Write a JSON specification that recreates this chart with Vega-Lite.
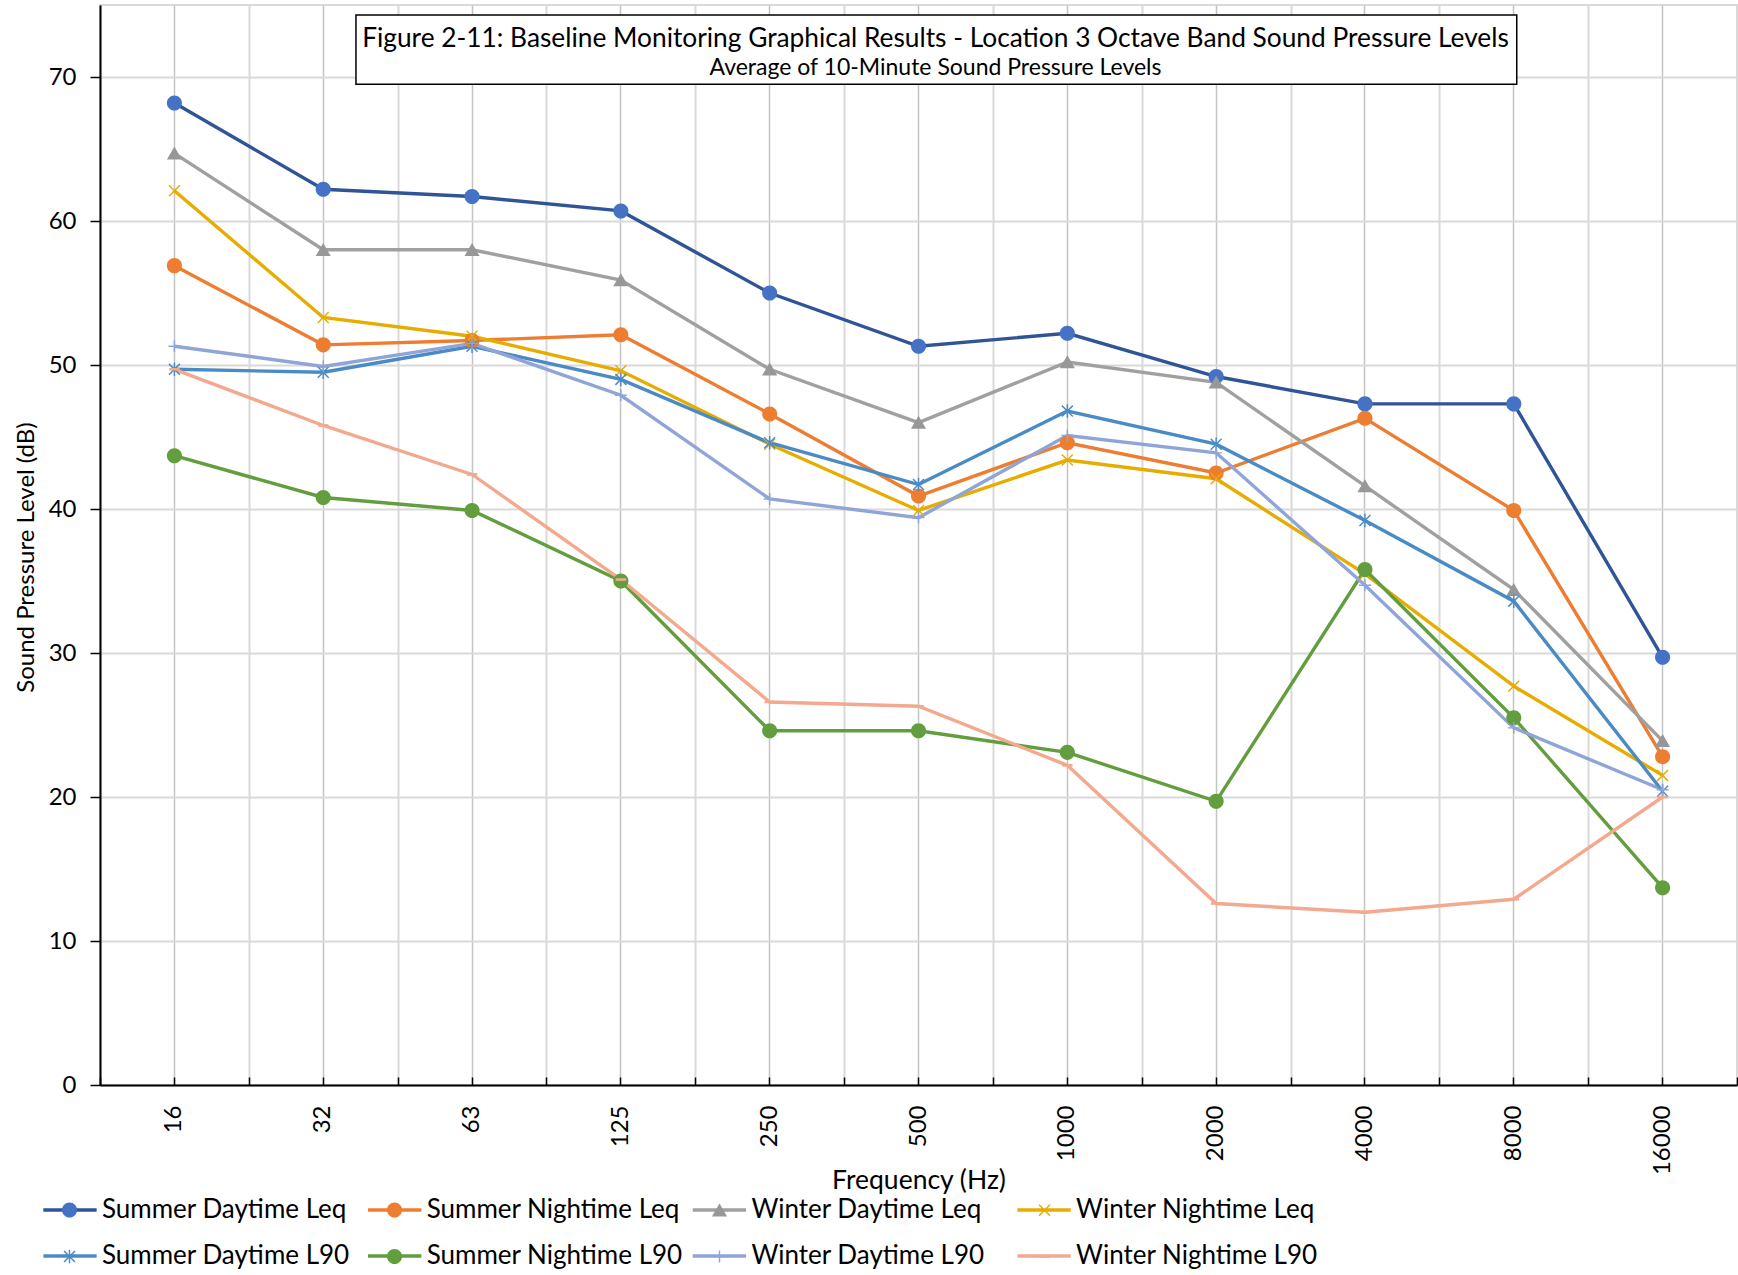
{
  "$schema": "https://vega.github.io/schema/vega-lite/v6.json",
  "width": 1637,
  "height": 1080,
  "autosize": {"type": "none"},
  "padding": {"left": 100, "top": 5, "right": 1, "bottom": 190},
  "background": "white",
  "config": {
    "font": "Lato",
    "view": {"stroke": "#d9d9d9", "strokeWidth": 2}
  },
  "title": {
    "text": "Figure 2-11:  Baseline Monitoring Graphical Results - Location 3 Octave Band Sound Pressure Levels",
    "subtitle": "Average of 10-Minute Sound Pressure Levels",
    "anchor": "middle",
    "frame": "group",
    "orient": "top",
    "offset": -75,
    "dx": 17,
    "font": "Lato",
    "fontSize": 26.3,
    "fontWeight": "normal",
    "color": "black",
    "subtitleFont": "Lato",
    "subtitleFontSize": 23,
    "subtitleColor": "black",
    "subtitlePadding": 5,
    "zindex": 2
  },
  "data": {
    "values": [
      {"frequency": 16, "series": "Summer Daytime Leq", "level": 68.2},
      {"frequency": 32, "series": "Summer Daytime Leq", "level": 62.2},
      {"frequency": 63, "series": "Summer Daytime Leq", "level": 61.7},
      {"frequency": 125, "series": "Summer Daytime Leq", "level": 60.7},
      {"frequency": 250, "series": "Summer Daytime Leq", "level": 55.0},
      {"frequency": 500, "series": "Summer Daytime Leq", "level": 51.3},
      {"frequency": 1000, "series": "Summer Daytime Leq", "level": 52.2},
      {"frequency": 2000, "series": "Summer Daytime Leq", "level": 49.2},
      {"frequency": 4000, "series": "Summer Daytime Leq", "level": 47.3},
      {"frequency": 8000, "series": "Summer Daytime Leq", "level": 47.3},
      {"frequency": 16000, "series": "Summer Daytime Leq", "level": 29.7},
      {"frequency": 16, "series": "Summer Nightime Leq", "level": 56.9},
      {"frequency": 32, "series": "Summer Nightime Leq", "level": 51.4},
      {"frequency": 63, "series": "Summer Nightime Leq", "level": 51.7},
      {"frequency": 125, "series": "Summer Nightime Leq", "level": 52.1},
      {"frequency": 250, "series": "Summer Nightime Leq", "level": 46.6},
      {"frequency": 500, "series": "Summer Nightime Leq", "level": 40.9},
      {"frequency": 1000, "series": "Summer Nightime Leq", "level": 44.6},
      {"frequency": 2000, "series": "Summer Nightime Leq", "level": 42.5},
      {"frequency": 4000, "series": "Summer Nightime Leq", "level": 46.3},
      {"frequency": 8000, "series": "Summer Nightime Leq", "level": 39.9},
      {"frequency": 16000, "series": "Summer Nightime Leq", "level": 22.8},
      {"frequency": 16, "series": "Winter Daytime Leq", "level": 64.7},
      {"frequency": 32, "series": "Winter Daytime Leq", "level": 58.0},
      {"frequency": 63, "series": "Winter Daytime Leq", "level": 58.0},
      {"frequency": 125, "series": "Winter Daytime Leq", "level": 55.9},
      {"frequency": 250, "series": "Winter Daytime Leq", "level": 49.7},
      {"frequency": 500, "series": "Winter Daytime Leq", "level": 46.0},
      {"frequency": 1000, "series": "Winter Daytime Leq", "level": 50.2},
      {"frequency": 2000, "series": "Winter Daytime Leq", "level": 48.8},
      {"frequency": 4000, "series": "Winter Daytime Leq", "level": 41.6},
      {"frequency": 8000, "series": "Winter Daytime Leq", "level": 34.4},
      {"frequency": 16000, "series": "Winter Daytime Leq", "level": 23.9},
      {"frequency": 16, "series": "Winter Nightime Leq", "level": 62.1},
      {"frequency": 32, "series": "Winter Nightime Leq", "level": 53.3},
      {"frequency": 63, "series": "Winter Nightime Leq", "level": 52.0},
      {"frequency": 125, "series": "Winter Nightime Leq", "level": 49.6},
      {"frequency": 250, "series": "Winter Nightime Leq", "level": 44.5},
      {"frequency": 500, "series": "Winter Nightime Leq", "level": 39.9},
      {"frequency": 1000, "series": "Winter Nightime Leq", "level": 43.4},
      {"frequency": 2000, "series": "Winter Nightime Leq", "level": 42.1},
      {"frequency": 4000, "series": "Winter Nightime Leq", "level": 35.5},
      {"frequency": 8000, "series": "Winter Nightime Leq", "level": 27.7},
      {"frequency": 16000, "series": "Winter Nightime Leq", "level": 21.5},
      {"frequency": 16, "series": "Summer Daytime L90", "level": 49.7},
      {"frequency": 32, "series": "Summer Daytime L90", "level": 49.5},
      {"frequency": 63, "series": "Summer Daytime L90", "level": 51.3},
      {"frequency": 125, "series": "Summer Daytime L90", "level": 49.0},
      {"frequency": 250, "series": "Summer Daytime L90", "level": 44.6},
      {"frequency": 500, "series": "Summer Daytime L90", "level": 41.7},
      {"frequency": 1000, "series": "Summer Daytime L90", "level": 46.8},
      {"frequency": 2000, "series": "Summer Daytime L90", "level": 44.5},
      {"frequency": 4000, "series": "Summer Daytime L90", "level": 39.2},
      {"frequency": 8000, "series": "Summer Daytime L90", "level": 33.6},
      {"frequency": 16000, "series": "Summer Daytime L90", "level": 20.4},
      {"frequency": 16, "series": "Summer Nightime L90", "level": 43.7},
      {"frequency": 32, "series": "Summer Nightime L90", "level": 40.8},
      {"frequency": 63, "series": "Summer Nightime L90", "level": 39.9},
      {"frequency": 125, "series": "Summer Nightime L90", "level": 35.0},
      {"frequency": 250, "series": "Summer Nightime L90", "level": 24.6},
      {"frequency": 500, "series": "Summer Nightime L90", "level": 24.6},
      {"frequency": 1000, "series": "Summer Nightime L90", "level": 23.1},
      {"frequency": 2000, "series": "Summer Nightime L90", "level": 19.7},
      {"frequency": 4000, "series": "Summer Nightime L90", "level": 35.8},
      {"frequency": 8000, "series": "Summer Nightime L90", "level": 25.5},
      {"frequency": 16000, "series": "Summer Nightime L90", "level": 13.7},
      {"frequency": 16, "series": "Winter Daytime L90", "level": 51.3},
      {"frequency": 32, "series": "Winter Daytime L90", "level": 49.9},
      {"frequency": 63, "series": "Winter Daytime L90", "level": 51.5},
      {"frequency": 125, "series": "Winter Daytime L90", "level": 47.9},
      {"frequency": 250, "series": "Winter Daytime L90", "level": 40.7},
      {"frequency": 500, "series": "Winter Daytime L90", "level": 39.4},
      {"frequency": 1000, "series": "Winter Daytime L90", "level": 45.1},
      {"frequency": 2000, "series": "Winter Daytime L90", "level": 43.9},
      {"frequency": 4000, "series": "Winter Daytime L90", "level": 34.7},
      {"frequency": 8000, "series": "Winter Daytime L90", "level": 24.8},
      {"frequency": 16000, "series": "Winter Daytime L90", "level": 20.5},
      {"frequency": 16, "series": "Winter Nightime L90", "level": 49.7},
      {"frequency": 32, "series": "Winter Nightime L90", "level": 45.8},
      {"frequency": 63, "series": "Winter Nightime L90", "level": 42.4},
      {"frequency": 125, "series": "Winter Nightime L90", "level": 35.1},
      {"frequency": 250, "series": "Winter Nightime L90", "level": 26.6},
      {"frequency": 500, "series": "Winter Nightime L90", "level": 26.3},
      {"frequency": 1000, "series": "Winter Nightime L90", "level": 22.2},
      {"frequency": 2000, "series": "Winter Nightime L90", "level": 12.6},
      {"frequency": 4000, "series": "Winter Nightime L90", "level": 12.0},
      {"frequency": 8000, "series": "Winter Nightime L90", "level": 12.9},
      {"frequency": 16000, "series": "Winter Nightime L90", "level": 20.0}
    ]
  },
  "layer": [
    {
      "data": {"values": [{"box": "title"}]},
      "mark": {"type": "rect", "fill": "white", "stroke": "black", "strokeWidth": 1.5},
      "encoding": {
        "x": {"datum": 32, "type": "ordinal", "bandPosition": 0.72, "axis": null},
        "x2": {"datum": 8000, "bandPosition": 0.52},
        "y": {"datum": 74.3, "type": "quantitative"},
        "y2": {"datum": 69.5}
      }
    },
    {
      "mark": {"type": "line", "strokeWidth": 3.4},
      "encoding": {
        "x": {
          "field": "frequency",
          "type": "ordinal",
          "scale": {"type": "band", "domain": [16, 32, 63, 125, 250, 500, 1000, 2000, 4000, 8000, 16000], "paddingInner": 0, "paddingOuter": 0},
          "axis": {
            "orient": "bottom",
            "title": "Frequency (Hz)",
            "titleFont": "Lato",
            "titleFontSize": 26.5,
            "titleFontWeight": "normal",
            "titleColor": "black",
            "titlePadding": -7,
            "labelAngle": -90,
            "labelFont": "Lato",
            "labelFontSize": 24,
            "labelColor": "black",
            "labelPadding": 28,
            "tickBand": "center",
            "ticks": true,
            "tickSize": -8,
            "tickColor": "black",
            "tickWidth": 1.5,
            "grid": true,
            "gridColor": "#c4c4c4",
            "gridWidth": 1.5,
            "domain": true,
            "domainColor": "black",
            "domainWidth": 2
          }
        },
        "y": {
          "field": "level",
          "type": "quantitative",
          "scale": {"domain": [0, 75], "nice": false, "zero": true},
          "axis": {
            "title": "Sound Pressure Level (dB)",
            "titleFont": "Lato",
            "titleFontSize": 24,
            "titleFontWeight": "normal",
            "titleColor": "black",
            "titlePadding": 10,
            "titleY": 552,
            "values": [0, 10, 20, 30, 40, 50, 60, 70],
            "labelFont": "Lato",
            "labelFontSize": 24,
            "labelColor": "black",
            "labelPadding": 14,
            "ticks": true,
            "tickSize": 10,
            "tickColor": "black",
            "tickWidth": 1.5,
            "grid": true,
            "gridColor": "#d9d9d9",
            "gridWidth": 2,
            "domain": true,
            "domainColor": "black",
            "domainWidth": 2
          }
        },
        "stroke": {
          "field": "series",
          "type": "nominal",
          "scale": {
            "domain": ["Summer Daytime Leq", "Summer Nightime Leq", "Winter Daytime Leq", "Winter Nightime Leq", "Summer Daytime L90", "Summer Nightime L90", "Winter Daytime L90", "Winter Nightime L90"],
            "range": ["#2F5597", "#ED7D31", "#A0A0A0", "#E6AD00", "#4B8BC5", "#629D3E", "#8FA5D8", "#F2A98E"]
          },
          "legend": {
            "orient": "none",
            "legendX": -45,
            "legendY": 1190,
            "title": null,
            "columns": 4,
            "direction": "horizontal",
            "gridAlign": "all",
            "symbolType": "M-2.05,0H2.05",
            "symbolSize": 676,
            "symbolStrokeWidth": 3.4,
            "labelFont": "Lato",
            "labelFontSize": 26,
            "labelColor": "black",
            "labelOffset": 17,
            "labelLimit": 500,
            "columnPadding": 2.7,
            "rowPadding": 18,
            "padding": 0,
            "zindex": 1,
            "values": ["Summer Daytime Leq", "Summer Nightime Leq", "Winter Daytime Leq", "Winter Nightime Leq", "Summer Daytime L90", "Summer Nightime L90", "Winter Daytime L90", "Winter Nightime L90"]
          }
        }
      }
    },
    {
      "mark": {"type": "point", "filled": true, "opacity": 1, "size": 676, "strokeWidth": 0},
      "encoding": {
        "x": {
          "field": "frequency",
          "type": "ordinal",
          "axis": {
            "orient": "bottom",
            "title": null,
            "labels": false,
            "tickBand": "extent",
            "ticks": true,
            "tickSize": -8,
            "tickColor": "black",
            "tickWidth": 1.5,
            "grid": true,
            "gridColor": "#d9d9d9",
            "gridWidth": 2,
            "domain": false
          }
        },
        "y": {"field": "level", "type": "quantitative"},
        "color": {
          "field": "series",
          "type": "nominal",
          "scale": {
            "domain": ["Winter Nightime L90", "Winter Daytime L90", "Summer Nightime L90", "Summer Daytime L90", "Winter Nightime Leq", "Winter Daytime Leq", "Summer Nightime Leq", "Summer Daytime Leq"],
            "range": ["#F2A98E", "#8FA5D8", "#629D3E", "#4B8BC5", "#E6AD00", "#979797", "#ED7D31", "#4472C4"]
          },
          "legend": {
            "orient": "none",
            "legendX": -45,
            "legendY": 1190,
            "title": null,
            "columns": 4,
            "direction": "horizontal",
            "gridAlign": "all",
            "symbolSize": 676,
            "symbolStrokeWidth": 3,
            "symbolStrokeColor": "transparent",
            "symbolOpacity": 1,
            "labelFont": "Lato",
            "labelFontSize": 26,
            "labelExpr": "''",
            "labelOffset": 17,
            "labelLimit": 500,
            "columnPadding": 279,
            "rowPadding": 18,
            "padding": 0,
            "zindex": 2,
            "values": ["Summer Daytime Leq", "Summer Nightime Leq", "Winter Daytime Leq", "Winter Nightime Leq", "Summer Daytime L90", "Summer Nightime L90", "Winter Daytime L90", "Winter Nightime L90"]
          }
        },
        "shape": {
          "field": "series",
          "type": "nominal",
          "scale": {
            "domain": ["Winter Nightime L90", "Winter Daytime L90", "Summer Nightime L90", "Summer Daytime L90", "Winter Nightime Leq", "Winter Daytime Leq", "Summer Nightime Leq", "Summer Daytime Leq"],
            "range": [
              "M-0.4,-0.1H0.4V0.1H-0.4Z",
              "M-0.055,-0.46H0.055V0.46H-0.055ZM-0.46,-0.055H0.46V0.055H-0.46Z",
              "M0.58,0A0.58,0.58,0,1,1,-0.58,0A0.58,0.58,0,1,1,0.58,0Z",
              "M-0.38,-0.46L0.46,0.38L0.38,0.46L-0.46,-0.38ZM-0.46,0.38L0.38,-0.46L0.46,-0.38L-0.38,0.46ZM-0.055,-0.52H0.055V0.52H-0.055Z",
              "M-0.38,-0.46L0.46,0.38L0.38,0.46L-0.46,-0.38ZM-0.46,0.38L0.38,-0.46L0.46,-0.38L-0.38,0.46Z",
              "M0,-0.52L0.58,0.48L-0.58,0.48Z",
              "M0.58,0A0.58,0.58,0,1,1,-0.58,0A0.58,0.58,0,1,1,0.58,0Z",
              "M0.58,0A0.58,0.58,0,1,1,-0.58,0A0.58,0.58,0,1,1,0.58,0Z"
            ]
          },
          "legend": {
            "orient": "none",
            "legendX": -45,
            "legendY": 1190,
            "title": null,
            "columns": 4,
            "direction": "horizontal",
            "gridAlign": "all",
            "symbolSize": 676,
            "symbolStrokeWidth": 3,
            "symbolStrokeColor": "transparent",
            "symbolOpacity": 1,
            "labelFont": "Lato",
            "labelFontSize": 26,
            "labelExpr": "''",
            "labelOffset": 17,
            "labelLimit": 500,
            "columnPadding": 279,
            "rowPadding": 18,
            "padding": 0,
            "zindex": 2,
            "values": ["Summer Daytime Leq", "Summer Nightime Leq", "Winter Daytime Leq", "Winter Nightime Leq", "Summer Daytime L90", "Summer Nightime L90", "Winter Daytime L90", "Winter Nightime L90"]
          }
        }
      }
    }
  ],
  "resolve": {"axis": {"x": "independent"}}
}
